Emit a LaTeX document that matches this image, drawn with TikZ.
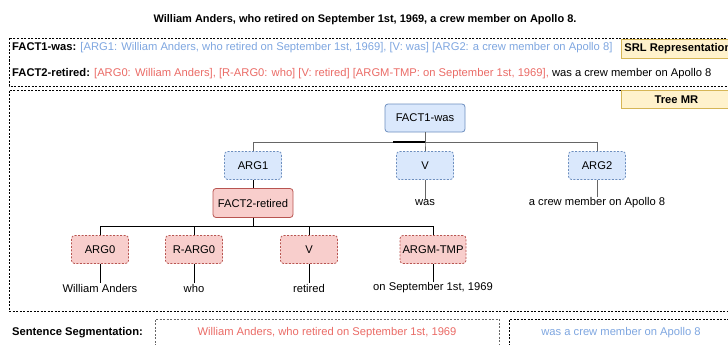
\documentclass[tikz,border=0pt]{standalone}
\usepackage{fontspec}
\setmainfont{Liberation Sans}
\usetikzlibrary{calc}
\definecolor{MRBlue}{HTML}{DAE8FC}
\definecolor{MRBlueLine}{HTML}{6C8EBF}
\definecolor{MRRed}{HTML}{F8CECC}
\definecolor{MRRedLine}{HTML}{B85450}
\definecolor{MRTag}{HTML}{FFF2CC}
\definecolor{MRTagLine}{HTML}{D6B656}
\definecolor{SRLBlue}{HTML}{7EA6E0}
\definecolor{SRLRed}{HTML}{EA6B66}
\definecolor{EdgeGray}{HTML}{666666}

\begin{document}
\begin{tikzpicture}[x=1pt,y=-1pt,font=\fontsize{11.2}{13}\selectfont,
  frame/.style={draw,dash pattern=on 2pt off 1.5pt,line width=0.7pt},
  tag/.style={draw=MRTagLine,fill=MRTag,line width=0.8pt,anchor=north west,
    minimum width=110pt,inner ysep=0pt,inner xsep=3pt,font=\fontsize{11.2}{13}\selectfont\bfseries},
  fact/.style={draw,rounded corners=3pt,minimum height=28pt,minimum width=80pt,
    inner sep=2pt,line width=0.8pt},
  role/.style={fact,dash pattern=on 2pt off 1.5pt,minimum width=57pt},
  blue/.style={fill=MRBlue,draw=MRBlueLine},
  red/.style={fill=MRRed,draw=MRRedLine},
  leaf/.style={inner sep=1pt},
  topedge/.style={draw=EdgeGray,line width=0.9pt},
  lowedge/.style={draw=black,line width=0.8pt}]
  \useasboundingbox (0,0) rectangle (728,345);

  % sentence
  \node[font=\fontsize{11}{13}\selectfont\bfseries] (title) at (365,20)
    {William Anders, who retired on September 1st, 1969, a crew member on Apollo 8.};

  % SRL representation
  \draw[frame] (740,38) -- (9,38) -- (9,86) -- (740,86);
  \node[anchor=west,inner xsep=0pt] (srl1) at (12,48) {\textbf{FACT1-was:} \textcolor{SRLBlue}{[ARG1: William Anders, who retired on September 1st, 1969], [V: was] [ARG2: a crew member on Apollo 8]}};
  \node[anchor=west,inner xsep=0pt] (srl2) at (12,74) {\textbf{FACT2-retired:} \textcolor{SRLRed}{[ARG0: William Anders], [R-ARG0: who] [V: retired] [ARGM-TMP: on September 1st, 1969],} was a crew member on Apollo 8};
  \node[tag,minimum height=19pt] (srltag) at (621,39) {SRL Representation};

  % tree MR
  \draw[frame] (740,90) -- (9,90) -- (9,311) -- (740,311);
  \node[tag,minimum height=18pt] (treetag) at (621,90) {Tree MR};

  \node[fact,blue] (fact1) at (425,118) {FACT1-was};
  \node[role,blue] (arg1) at (253,165.5) {ARG1};
  \node[role,blue] (v1) at (425,165.5) {V};
  \node[role,blue] (arg2) at (597,165.5) {ARG2};
  \node[leaf] (was) at (425,203) {was};
  \node[leaf] (crew) at (597,203) {a crew member on Apollo 8};

  \node[fact,red,minimum height=29pt] (fact2) at (253,203) {FACT2-retired};
  \node[role,red] (arg0) at (100,249.5) {ARG0};
  \node[role,red] (rarg0) at (194,249.5) {R-ARG0};
  \node[role,red] (v2) at (309,249.5) {V};
  \node[role,red,minimum width=66pt] (tmp) at (433,249.5) {ARGM-TMP};
  \node[leaf] (anders) at (100,288) {William Anders};
  \node[leaf] (who) at (194,288) {who};
  \node[leaf] (retired) at (309,288) {retired};
  \node[leaf] (date) at (433,288) {on September 1st, 1969};

  % edges of the tree
  \foreach \c in {arg1,v1,arg2}
    \draw[topedge] (fact1.south) -- ++(0,10) -| (\c.north);
  \draw[line width=1.3pt] (fact1.south |- 0,142) -- (393,142);
  \draw[topedge] (v1.south) -- (was.north);
  \draw[topedge] (arg2.south) -- (crew.north);
  \draw[lowedge] (arg1.south) -- (fact2.north);
  \foreach \c in {arg0,rarg0,v2,tmp}
    \draw[lowedge] (fact2.south) -- ++(0,8) -| (\c.north);
  \foreach \p/\c in {arg0/anders,rarg0/who,v2/retired,tmp/date}
    \draw[lowedge] (\p.south) -- (\c.north);

  % segmentation
  \node[anchor=west,inner xsep=0pt,font=\fontsize{11.2}{13}\selectfont\bfseries] (seglabel) at (12,333) {Sentence Segmentation:};
  \draw[frame,draw=EdgeGray] (155,360) -- (155,319) -- (499,319) -- (499,360);
  \draw[frame] (509,360) -- (509,319) -- (740,319);
  \node[text=SRLRed] (seg1) at (327,333) {William Anders, who retired on September 1st, 1969};
  \node[text=SRLBlue] (seg2) at (621,333) {was a crew member on Apollo 8};
\end{tikzpicture}
\end{document}
